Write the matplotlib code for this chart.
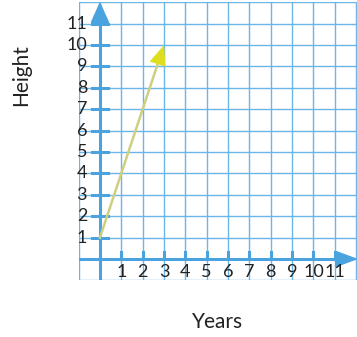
import numpy as np
import matplotlib.pyplot as plt
from matplotlib.patches import Polygon

plt.rcParams['font.family'] = ['Lato', 'DejaVu Sans']

x_ticks = list(range(1, 12))
y_ticks = list(range(1, 12))
line_start = (0, 1)
line_end = (3, 10)

grid_color = '#6ab6e6'
axis_color = '#4aa3df'

fig = plt.figure(figsize=(3.57, 3.37), dpi=100)
ax = fig.add_axes([78.6 / 357, 56.6 / 337, (357 - 78.6) / 357, (280.4 - 2.2) / 337])
ax.set_xlim(-1, 12.04)
ax.set_ylim(-1, 12)

# grid
for v in range(-1, 13):
    ax.axvline(v, color=grid_color, lw=1.0, zorder=1)
    ax.axhline(v, color=grid_color, lw=1.0, zorder=1)

# main axes
ax.plot([0, 0], [-1, 11.2], color=axis_color, lw=2.2, zorder=2)
ax.plot([-1, 11.2], [0, 0], color=axis_color, lw=2.2, zorder=2)
ax.add_patch(Polygon([[-0.4, 11.05], [0.4, 11.05], [0, 11.95]], closed=True,
                     color=axis_color, zorder=3, clip_on=False))
ax.add_patch(Polygon([[11.05, -0.35], [11.05, 0.35], [12.0, 0]], closed=True,
                     color=axis_color, zorder=3, clip_on=False))

# tick dashes
for t in y_ticks:
    ax.plot([-0.37, 0.37], [t, t], color=axis_color, lw=2.2, zorder=2)
for t in x_ticks:
    ax.plot([t, t], [0, 0.35], color=axis_color, lw=2.2, zorder=2)

# tick labels
for t in y_ticks:
    ax.text(-0.6, t, str(t), ha='right', va='center', fontsize=13, color='#222222', zorder=4)
for t in x_ticks:
    ax.text(t, -0.6, str(t), ha='center', va='center', fontsize=13, color='#222222', zorder=4)

# growth line with arrow
ax.annotate('', xy=line_end, xytext=line_start,
            arrowprops=dict(arrowstyle='-|>,head_length=1.45,head_width=0.6',
                            color='#dede1e', lw=0, shrinkA=0, shrinkB=0), zorder=5)
ax.plot([line_start[0], line_end[0] - 0.3], [line_start[1], line_end[1] - 0.9],
        color='#cfcf80', lw=1.8, zorder=4)

ax.set_xticks([])
ax.set_yticks([])
for s in ax.spines.values():
    s.set_visible(False)

fig.text(21 / 357, 1 - 75 / 337, 'Height', rotation=90, ha='center', va='center',
         fontsize=15, color='#222222')
fig.text(218 / 357, 1 - 322 / 337, 'Years', ha='center', va='center',
         fontsize=15, color='#222222')

fig.savefig('out.png', dpi=100)
